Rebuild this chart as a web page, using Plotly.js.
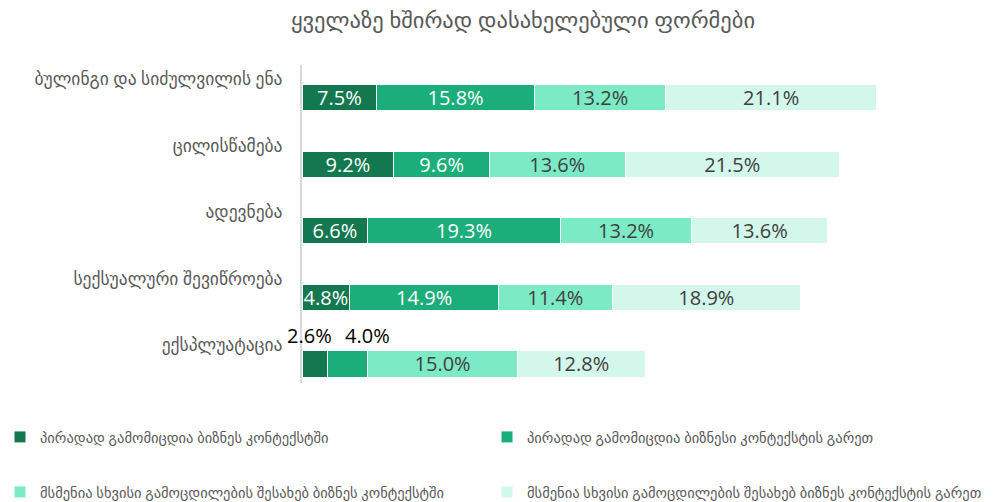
<!DOCTYPE html>
<html><head><meta charset="utf-8">
<script src="https://cdn.plot.ly/plotly-3.0.1.min.js"></script>
<style>html,body{margin:0;padding:0;background:#fff}</style>
</head><body><div id="chart" style="width:1005px;height:502px"></div>
<script>
const chartTitle = "ყველაზე ხშირად დასახელებული ფორმები";
const categories = [
  "ბულინგი და სიძულვილის ენა",
  "ცილისწამება",
  "ადევნება",
  "სექსუალური შევიწროება",
  "ექსპლუატაცია"
];
const seriesNames = [
  "პირადად გამომიცდია ბიზნეს კონტექსტში",
  "პირადად გამომიცდია ბიზნესი კონტექსტის გარეთ",
  "მსმენია სხვისი გამოცდილების შესახებ ბიზნეს კონტექსტში",
  "მსმენია სხვისი გამოცდილების შესახებ ბიზნეს კონტექსტის გარეთ"
];
const personalInBusiness = [7.5, 9.2, 6.6, 4.8, 2.6];
const personalOutBusiness = [15.8, 9.6, 19.3, 14.9, 4.0];
const heardInBusiness = [13.2, 13.6, 13.2, 11.4, 15.0];
const heardOutBusiness = [21.1, 21.5, 13.6, 18.9, 12.8];

const series = [personalInBusiness, personalOutBusiness, heardInBusiness, heardOutBusiness];
const colors = ["#13774F", "#1BAE7A", "#7DEAC6", "#D3F7EA"];
const textColors = ["#FFFFFF", "#FFFFFF", "#404040", "#404040"];
const smallThreshold = 4.5;
const outsideShift = [-5, 20];
const font = "'Open Sans','DejaVu Sans',sans-serif";

const traces = series.map((vals, s) => ({
  type: "bar",
  orientation: "h",
  name: seriesNames[s],
  y: categories,
  x: vals,
  offset: 0.085,
  width: 0.395,
  marker: { color: colors[s], line: { color: "#FFFFFF", width: 1 } },
  text: vals.map(v => v >= smallThreshold ? v.toFixed(1) + "%" : ""),
  textposition: "inside",
  insidetextanchor: "middle",
  constraintext: "none",
  textfont: { family: font, size: 20, color: textColors[s] },
  hoverinfo: "skip",
  legend: s === 0 ? "legend" : "legend" + (s + 1),
  showlegend: true
}));

// labels of segments too small for their text, placed above the bar
const annotations = [];
categories.forEach((c, i) => {
  let start = 0, k = 0;
  series.forEach((vals) => {
    const v = vals[i];
    if (v < smallThreshold) {
      annotations.push({
        x: start + v / 2, y: c, xref: "x", yref: "y",
        text: v.toFixed(1) + "%", showarrow: false,
        xshift: outsideShift[k++ % outsideShift.length], yshift: 10,
        font: { family: font, size: 20, color: "#000000" }
      });
    }
    start += v;
  });
});

const legendFont = { family: font, size: 14.5, color: "#595959" };
function leg(x, y) {
  return { xref: "container", yref: "container", x: x, y: y, xanchor: "left", yanchor: "middle",
    orientation: "h", font: legendFont, bgcolor: "rgba(0,0,0,0)", borderwidth: 0, itemclick: false };
}

const layout = {
  width: 1005, height: 502,
  paper_bgcolor: "#FFFFFF", plot_bgcolor: "#FFFFFF",
  font: { family: font, color: "#595959" },
  title: { text: chartTitle, x: 523 / 1005, xanchor: "center", xref: "container", y: 0.96, yanchor: "middle", yref: "container",
    font: { family: font, size: 22.5, color: "#595959" } },
  barmode: "stack",
  bargap: 0,
  margin: { l: 302, r: 15, t: 65, b: 119 },
  xaxis: { range: [0, 69], visible: false, showgrid: false, zeroline: false, fixedrange: true },
  yaxis: { type: "category", range: [4.57, -0.21], showline: true, linecolor: "#D9D9D9", linewidth: 2,
    ticks: "", ticklabelstandoff: 14, showgrid: false, zeroline: false,
    tickfont: { family: font, size: 17.5, color: "#595959" }, fixedrange: true },
  annotations: annotations,
  showlegend: true,
  legend: leg(-10 / 1005, 1 - 437 / 502),
  legend2: leg(487 / 1005, 1 - 437 / 502),
  legend3: leg(-10 / 1005, 1 - 492 / 502),
  legend4: leg(487 / 1005, 1 - 492 / 502)
};

Plotly.newPlot("chart", traces, layout, { displayModeBar: false, staticPlot: true });
</script>
</body></html>
